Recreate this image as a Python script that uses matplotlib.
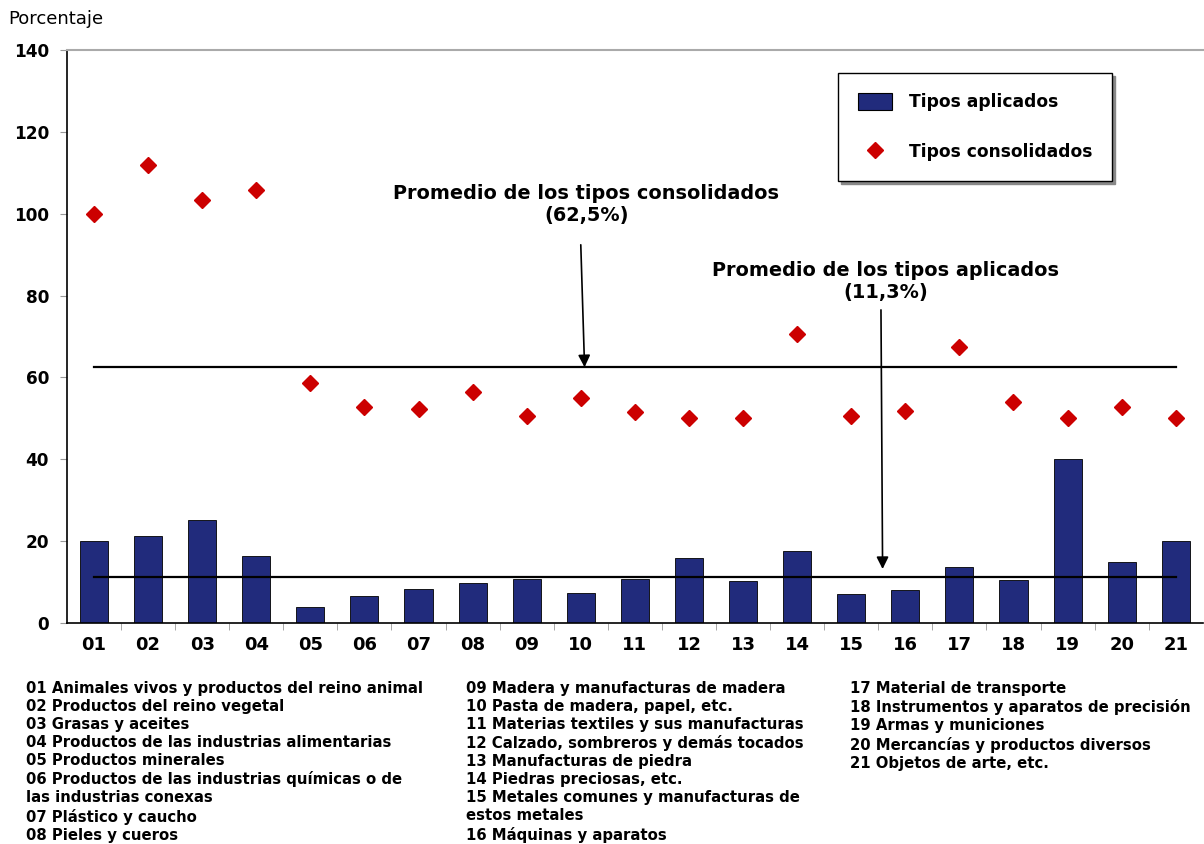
import numpy as np
import matplotlib
matplotlib.use('Agg')
import matplotlib.pyplot as plt
from matplotlib.patches import Patch
from matplotlib.lines import Line2D

plt.rcParams['font.family'] = 'DejaVu Sans'

# datos
codigos = ['01', '02', '03', '04', '05', '06', '07', '08', '09', '10', '11',
           '12', '13', '14', '15', '16', '17', '18', '19', '20', '21']
aplicados = [20.0, 21.3, 25.2, 16.4, 3.9, 6.6, 8.3, 9.8, 10.8, 7.3, 10.8,
             15.9, 10.3, 17.6, 7.1, 8.1, 13.7, 10.5, 40.1, 14.9, 20.0]
consolidados = [100.0, 112.0, 103.3, 105.8, 58.6, 52.8, 52.3, 56.4, 50.6, 55.0, 51.6,
                50.1, 50.1, 70.6, 50.6, 51.8, 67.4, 54.0, 50.0, 52.8, 50.0]
prom_consolidados = 62.5
prom_aplicados = 11.3

desc_col1 = ['01 Animales vivos y productos del reino animal',
             '02 Productos del reino vegetal',
             '03 Grasas y aceites',
             '04 Productos de las industrias alimentarias',
             '05 Productos minerales',
             '06 Productos de las industrias químicas o de',
             'las industrias conexas',
             '07 Plástico y caucho',
             '08 Pieles y cueros']
desc_col2 = ['09 Madera y manufacturas de madera',
             '10 Pasta de madera, papel, etc.',
             '11 Materias textiles y sus manufacturas',
             '12 Calzado, sombreros y demás tocados',
             '13 Manufacturas de piedra',
             '14 Piedras preciosas, etc.',
             '15 Metales comunes y manufacturas de',
             'estos metales',
             '16 Máquinas y aparatos']
desc_col3 = ['17 Material de transporte',
             '18 Instrumentos y aparatos de precisión',
             '19 Armas y municiones',
             '20 Mercancías y productos diversos',
             '21 Objetos de arte, etc.']

azul = '#212B7C'
rojo = '#CC0000'

fig = plt.figure(figsize=(12.04, 8.44), dpi=100)
ax = fig.add_axes([0.0556, 0.2618, 0.9434, 0.679])

x = np.arange(len(codigos))
ax.bar(x, aplicados, width=0.52, color=azul, edgecolor='black', linewidth=0.6, zorder=2)
ax.plot(x, consolidados, linestyle='none', marker='D', markersize=8,
        color=rojo, zorder=3)

# promedios
ax.plot([x[0], x[-1]], [prom_consolidados, prom_consolidados], color='black', lw=1.6, zorder=4)
ax.plot([x[0], x[-1]], [prom_aplicados, prom_aplicados], color='black', lw=1.6, zorder=4)

ax.annotate('', xy=(9.07, prom_consolidados), xytext=(9.0, 92.4),
            arrowprops=dict(arrowstyle='-|>', color='black', lw=1.2,
                            mutation_scale=18, shrinkA=0, shrinkB=0))
ax.annotate('', xy=(14.58, 13.2), xytext=(14.55, 76.5),
            arrowprops=dict(arrowstyle='-|>', color='black', lw=1.2,
                            mutation_scale=18, shrinkA=0, shrinkB=0))
ax.text(9.1, 97.3, 'Promedio de los tipos consolidados\n(62,5%)', ha='center',
        va='bottom', fontsize=13.9, fontweight='bold', linespacing=1.2)
ax.text(14.64, 78.5, 'Promedio de los tipos aplicados\n(11,3%)', ha='center',
        va='bottom', fontsize=13.9, fontweight='bold', linespacing=1.2)

ax.set_xlim(-0.5, len(codigos) - 0.5)
ax.set_ylim(0, 140)
ax.set_yticks(np.arange(0, 141, 20))
ax.set_xticks(x)
ax.set_xticklabels(codigos)
ax.set_xticks(np.arange(0.5, len(codigos) - 0.5, 1), minor=True)
ax.tick_params(axis='x', which='major', length=0, pad=9, labelsize=13)
ax.tick_params(axis='x', which='minor', length=5, color='#999999', direction='out')
ax.tick_params(axis='y', length=5, color='#999999', labelsize=12.2, pad=8)
for lab in ax.get_xticklabels() + ax.get_yticklabels():
    lab.set_fontweight('bold')

ax.spines['right'].set_visible(False)
ax.spines['top'].set_color('#aaaaaa')
ax.spines['top'].set_linewidth(1.5)
ax.spines['left'].set_linewidth(1.2)
ax.spines['bottom'].set_linewidth(1.2)

handles = [Patch(facecolor=azul, edgecolor='black', linewidth=0.8),
           Line2D([], [], linestyle='none', marker='D', markersize=8, color=rojo)]
leg = ax.legend(handles, ['Tipos aplicados', 'Tipos consolidados'],
                loc='upper left', bbox_to_anchor=(0.679, 0.96),
                prop={'weight': 'bold', 'size': 12.3}, frameon=True, fancybox=False,
                borderpad=1.15, labelspacing=1.85, handlelength=2.0, handleheight=1.2,
                handletextpad=1.0, borderaxespad=0, shadow={'color': '#888888', 'alpha': 1})
leg.get_frame().set_edgecolor('black')
leg.get_frame().set_linewidth(1.0)

fig.text(0.007, 0.978, 'Porcentaje', fontsize=13, va='center', ha='left')

for col, xpos in [(desc_col1, 0.022), (desc_col2, 0.387), (desc_col3, 0.706)]:
    fig.text(xpos, 0.193, '\n'.join(col), fontsize=10.7, fontweight='bold',
             va='top', ha='left', linespacing=1.25)

fig.savefig('out.png', dpi=100)
